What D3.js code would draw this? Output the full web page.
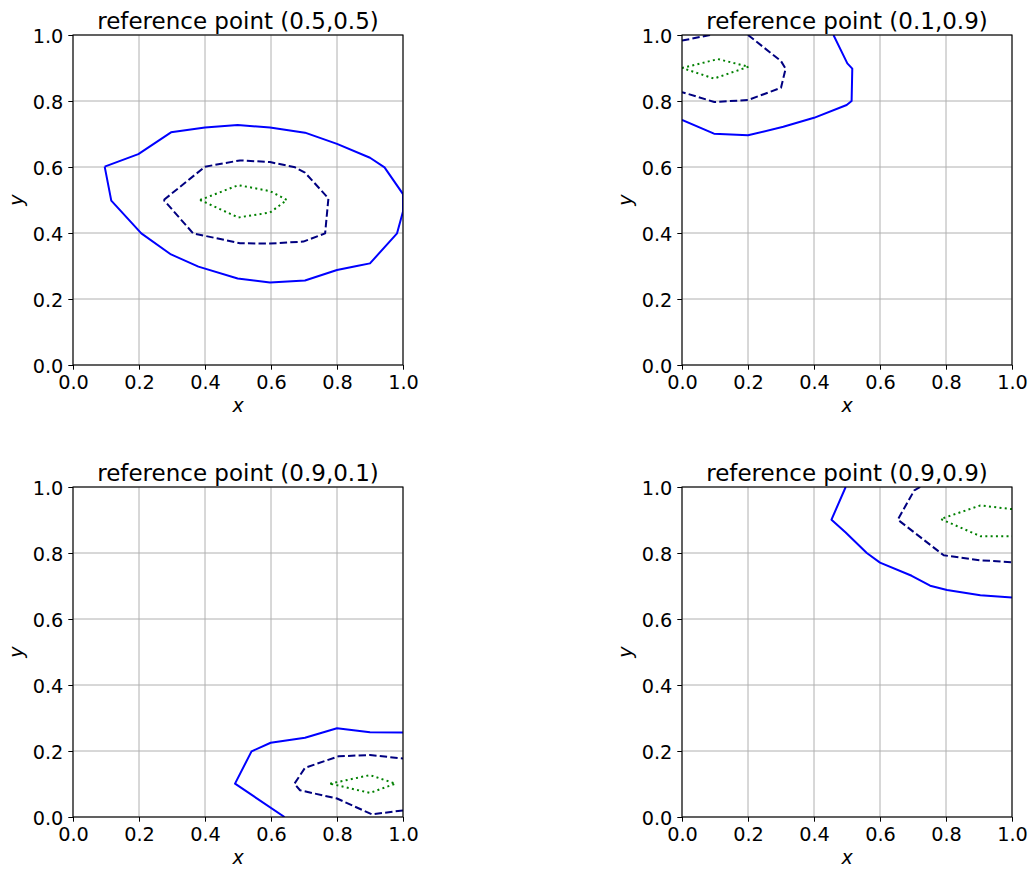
<!DOCTYPE html>
<html>
<head>
<meta charset="utf-8">
<script src="https://cdn.jsdelivr.net/npm/d3@7"></script>
<style>
  body { margin: 0; background: #fff; }
  svg { display: block; font-family: "DejaVu Sans", sans-serif; }
</style>
</head>
<body>
<svg id="chart" width="1031" height="869"></svg>
<script>
// ---- data ----
const titles = ["reference point (0.5,0.5)", "reference point (0.1,0.9)", "reference point (0.9,0.1)", "reference point (0.9,0.9)"];
const tickValues = [0, 0.2, 0.4, 0.6, 0.8, 1.0];

// panel 1 : reference point (0.5,0.5)
const p1Solid = [[[0.096,0.601],[0.198,0.639],[0.297,0.705],[0.40,0.72],[0.499,0.727],[0.597,0.72],[0.703,0.704],[0.80,0.67],[0.90,0.628],[0.944,0.599],[1.0,0.518],[1.0,0.465],[0.982,0.399],[0.90,0.308],[0.86,0.30],[0.80,0.288],[0.703,0.256],[0.597,0.25],[0.499,0.262],[0.38,0.298],[0.297,0.335],[0.207,0.399],[0.116,0.498],[0.096,0.601]]];
const p1Dashed = [[[0.275,0.5],[0.40,0.601],[0.506,0.62],[0.597,0.615],[0.673,0.599],[0.703,0.583],[0.774,0.505],[0.764,0.399],[0.698,0.374],[0.597,0.368],[0.506,0.369],[0.364,0.399],[0.275,0.5]]];
const p1Dotted = [[[0.385,0.5],[0.501,0.545],[0.597,0.527],[0.648,0.5],[0.597,0.462],[0.501,0.447],[0.385,0.5]]];

// panel 2 : reference point (0.1,0.9)
const p2Solid = [[[0.0,0.743],[0.097,0.701],[0.20,0.696],[0.307,0.722],[0.40,0.749],[0.499,0.788],[0.514,0.80],[0.516,0.898],[0.501,0.914],[0.459,1.0]]];
const p2Dashed = [[[0.0,0.983],[0.085,1.0]], [[0.20,1.0],[0.30,0.921],[0.314,0.898],[0.30,0.84],[0.20,0.803],[0.098,0.797],[0.0,0.827]]];
const p2Dotted = [[[0.0,0.90],[0.109,0.927],[0.202,0.904],[0.097,0.868],[0.0,0.90]]];

// panel 3 : reference point (0.9,0.1)
const p3Solid = [[[0.641,0.0],[0.491,0.101],[0.541,0.199],[0.599,0.225],[0.703,0.24],[0.80,0.269],[0.90,0.257],[1.0,0.256]]];
const p3Dashed = [[[1.0,0.02],[0.906,0.008],[0.80,0.056],[0.688,0.081],[0.671,0.101],[0.703,0.149],[0.805,0.184],[0.90,0.188],[1.0,0.177]]];
const p3Dotted = [[[0.779,0.101],[0.90,0.127],[0.977,0.101],[0.90,0.073],[0.779,0.101]]];

// panel 4 : reference point (0.9,0.9)
const p4Solid = [[[0.496,1.0],[0.453,0.901],[0.496,0.862],[0.56,0.80],[0.60,0.771],[0.696,0.731],[0.752,0.701],[0.803,0.688],[0.904,0.672],[1.0,0.665]]];
const p4Dashed = [[[0.722,1.0],[0.704,0.99],[0.654,0.901],[0.793,0.793],[0.904,0.778],[1.0,0.772]]];
const p4Dotted = [[[1.0,0.933],[0.904,0.944],[0.784,0.903],[0.904,0.851],[1.0,0.851]]];

const panels = [
  {title: titles[0], solid: p1Solid, dashed: p1Dashed, dotted: p1Dotted},
  {title: titles[1], solid: p2Solid, dashed: p2Dashed, dotted: p2Dotted},
  {title: titles[2], solid: p3Solid, dashed: p3Dashed, dotted: p3Dotted},
  {title: titles[3], solid: p4Solid, dashed: p4Dashed, dotted: p4Dotted}
];

// ---- layout ----
const size = 330;
const origins = [[73, 35], [682, 35], [73, 487], [682, 487]];
const svg = d3.select("#chart");
const tickFont = 19.3;

const styles = [
  {key: "solid", color: "#0000ff", dash: null},
  {key: "dashed", color: "#000080", dash: "7.4,3.2"},
  {key: "dotted", color: "#008000", dash: "2,3.3"}
];

panels.forEach((p, i) => {
  const [ox, oy] = origins[i];
  const g = svg.append("g").attr("transform", `translate(${ox},${oy})`);
  const x = d3.scaleLinear().domain([0, 1]).range([0, size]);
  const y = d3.scaleLinear().domain([0, 1]).range([size, 0]);

  // grid
  g.append("g").selectAll("line").data(tickValues).join("line")
    .attr("x1", d => x(d)).attr("x2", d => x(d)).attr("y1", 0).attr("y2", size)
    .attr("stroke", "#b0b0b0").attr("stroke-width", 1);
  g.append("g").selectAll("line").data(tickValues).join("line")
    .attr("y1", d => y(d)).attr("y2", d => y(d)).attr("x1", 0).attr("x2", size)
    .attr("stroke", "#b0b0b0").attr("stroke-width", 1);

  // contours
  const clipId = "clip" + i;
  g.append("clipPath").attr("id", clipId).append("rect")
    .attr("x", 0).attr("y", 0).attr("width", size).attr("height", size);
  const line = d3.line().x(d => x(d[0])).y(d => y(d[1]));
  const cg = g.append("g").attr("clip-path", `url(#${clipId})`);
  styles.forEach(s => {
    p[s.key].forEach(seg => {
      cg.append("path").attr("d", line(seg))
        .attr("fill", "none").attr("stroke", s.color).attr("stroke-width", 2)
        .attr("stroke-dasharray", s.dash).attr("stroke-linejoin", "round");
    });
  });

  // axes
  const xAxis = d3.axisBottom(x).tickValues(tickValues).tickFormat(d3.format(".1f")).tickSize(4.7).tickPadding(5.8);
  const yAxis = d3.axisLeft(y).tickValues(tickValues).tickFormat(d3.format(".1f")).tickSize(4.7).tickPadding(5);
  const gx = g.append("g").attr("transform", `translate(0,${size})`).call(xAxis);
  const gy = g.append("g").call(yAxis);
  [gx, gy].forEach(a => {
    a.select(".domain").remove();
    a.selectAll("text").attr("font-size", tickFont).attr("fill", "#000").attr("font-family", "DejaVu Sans");
    a.selectAll("line").attr("stroke", "#000").attr("stroke-width", 1);
  });
  gy.selectAll("text").attr("dy", "0.4em");

  // spines
  g.append("rect").attr("x", 0).attr("y", 0).attr("width", size).attr("height", size)
    .attr("fill", "none").attr("stroke", "#000").attr("stroke-width", 1.1);

  // title
  g.append("text").attr("x", size / 2).attr("y", -5.7).attr("text-anchor", "middle")
    .attr("font-size", 23).text(p.title);

  // axis labels
  g.append("text").attr("x", size / 2).attr("y", size + 46.7).attr("text-anchor", "middle")
    .attr("font-size", 19).attr("font-style", "italic").text("x");
  g.append("text").attr("transform", `translate(${-50},${size / 2}) rotate(-90)`)
    .attr("text-anchor", "middle").attr("font-size", 19).attr("font-style", "italic").text("y");
});
</script>
</body>
</html>
